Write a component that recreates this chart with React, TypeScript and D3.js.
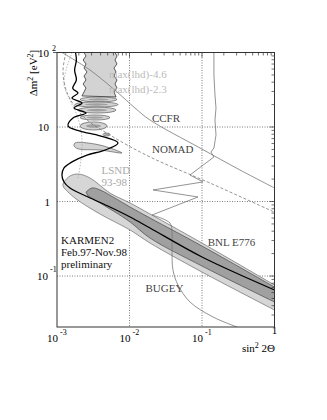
import React from 'react';
import * as d3 from 'd3';

// sin^2 2theta vs dm^2, everything as [sin2, dm2]
const xTickVals = [1e-3, 1e-2, 1e-1, 1];
const yTickVals = [100, 10, 1, 0.1];

const karmen2 = [
  [1.8e-3, 100], [1.85e-3, 79], [1.75e-3, 58], [1.85e-3, 43], [1.65e-3, 33], [1.95e-3, 28.6],
  [1.61e-3, 24.5], [2.21e-3, 21], [1.72e-3, 18], [2.51e-3, 15.4], [1.66e-3, 13.2], [1.42e-3, 10.3],
  [2.08e-3, 8.8], [3.92e-3, 7.6], [6.94e-3, 6.1], [4.59e-3, 4.9], [2.59e-3, 4.2], [1.61e-3, 3.4],
  [1.25e-3, 2.82], [1.17e-3, 2.27], [1.25e-3, 1.83], [1.51e-3, 1.52], [2.68e-3, 1.15], [5.38e-3, 0.844],
  [1.02e-2, 0.62], [1.92e-2, 0.441], [0.1, 0.18], [1, 0.065],
];

const lsndOuterUpper = [
  [1.2e-3, 1.66], [1.25e-3, 1.83], [1.51e-3, 2.2], [1.95e-3, 2.34], [2.85e-3, 2.07], [5.38e-3, 1.3],
  [1.02e-2, 0.955], [1.92e-2, 0.68], [0.1, 0.277], [1, 0.0757],
];
const lsndOuterLower = [
  [1.25e-3, 1.52], [1.77e-3, 1.11], [3.92e-3, 0.68], [1.02e-2, 0.414], [1.92e-2, 0.277], [0.1, 0.113], [1, 0.035],
];
const lsndInnerUpper = [
  [2.51e-3, 1.34], [3.04e-3, 1.52], [3.92e-3, 1.43], [6.31e-3, 1.11], [1.02e-2, 0.844], [1.92e-2, 0.601],
  [0.1, 0.253], [1, 0.0711],
];
const lsndInnerLower = [
  [2.68e-3, 1.19], [3.92e-3, 0.955], [6.31e-3, 0.723], [1.02e-2, 0.531], [1.92e-2, 0.323], [0.1, 0.136], [1, 0.0448],
];

// high dm2 LSND block: left edge top->bottom, right edge bottom->top
const lsndHighLeft = [
  [2.36e-3, 100], [2.51e-3, 89.7], [2.29e-3, 79.3], [2.51e-3, 70.2], [2.36e-3, 61.9], [2.59e-3, 54.8],
  [2.36e-3, 48.4], [2.51e-3, 42.8], [2.29e-3, 37.8], [2.51e-3, 33.4], [2.36e-3, 29.5], [2.21e-3, 26.1],
];
const lsndHighRight = [
  [6.52e-3, 25.3], [6.11e-3, 29.5], [6.73e-3, 33.4], [6.31e-3, 37.8], [6.73e-3, 42.8], [6.11e-3, 48.4],
  [6.52e-3, 54.8], [6.11e-3, 61.9], [6.73e-3, 70.2], [6.31e-3, 79.3], [6.73e-3, 89.7], [6.31e-3, 100],
];

// islands: [sin2 lo, sin2 hi, dm2 lo, dm2 hi]
const lsndIslands = [
  [2.08e-3, 6.73e-3, 21.7, 25.3],
  [1.77e-3, 6.94e-3, 18.5, 21.7],
  [1.95e-3, 6.52e-3, 15.4, 18.5],
  [2.08e-3, 5.38e-3, 12.4, 14.5],
  [2.08e-3, 4.89e-3, 9.12, 11.7],
  [4.31e-3, 5.38e-3, 7.57, 8.3],
];
const lsndTail = [
  [1.77e-3, 6.1], [3.34e-3, 5.91], [5.38e-3, 5.23], [7.89e-3, 4.48], [3.92e-3, 4.91], [1.95e-3, 5.1], [1.72e-3, 5.56],
];

const lsndLhd = [
  [1.61e-3, 100], [1.33e-3, 58], [1.25e-3, 36.6], [1.51e-3, 23], [1.95e-3, 13.2], [2.21e-3, 6.7],
  [2.14e-3, 3.6], [1.95e-3, 2.07],
];
const ccfr = [
  [1.17e-3, 100], [2.85e-3, 58.2], [6.73e-3, 29.5], [1.19e-2, 18], [1.92e-2, 12.4], [9.38e-2, 5.23],
  [0.334, 2.65], [1, 1.52],
];
const nomad = [
  [1.33e-3, 100], [1.21e-3, 54.8], [1.42e-3, 26.9], [2.43e-3, 13.2], [5.38e-3, 7.8], [1.92e-2, 3.96],
  [0.129, 1.77], [1, 0.72],
];
const bnlE776 = [
  [0.146, 100], [0.146, 49.9], [0.151, 26.9], [0.156, 18], [0.151, 12.4], [0.156, 7.8], [0.146, 5.23],
  [0.133, 4.62], [0.146, 3.96], [0.0683, 2.27], [0.103, 1.83], [0.0211, 1.43], [0.0881, 1.15], [0.0204, 0.659],
];
const bugey = [
  [0.0204, 0.659], [0.0362, 0.514], [0.0386, 0.378], [0.0386, 0.223], [0.0398, 0.12], [0.0467, 0.0757],
  [0.0683, 0.0448], [0.142, 0.0282], [0.304, 0.0207],
];

const labels = [
  { t: 'max(lhd)-4.6', s: 5.2e-3, d: 46, c: '#bbb' },
  { t: 'max(lhd)-2.3', s: 5.2e-3, d: 28.5, c: '#bbb' },
  { t: 'CCFR', s: 2.04e-2, d: 11.5, c: '#444' },
  { t: 'NOMAD', s: 2.04e-2, d: 4.45, c: '#444' },
  { t: 'LSND', s: 4.1e-3, d: 2.37, c: '#aaa' },
  { t: '93-98', s: 4.1e-3, d: 1.61, c: '#aaa' },
  { t: 'BNL E776', s: 0.12, d: 0.254, c: '#444' },
  { t: 'BUGEY', s: 0.0166, d: 0.062, c: '#444' },
];
const karmenText = ['KARMEN2', 'Feb.97-Nov.98', 'preliminary'];

const FONT = 'Liberation Serif, DejaVu Serif, serif';

export default function App() {
  const x = d3.scaleLog().domain([1e-3, 1]).range([57, 274.5]);
  const y = d3.scaleLog().domain([0.0207, 100]).range([327, 52.5]);
  const [x0, x1] = x.range();
  const [y0, y1] = y.range();

  const smooth = d3.line<number[]>().x(d => x(d[0])).y(d => y(d[1])).curve(d3.curveCatmullRom.alpha(0.5));
  const closed = d3.line<number[]>().x(d => x(d[0])).y(d => y(d[1])).curve(d3.curveCatmullRomClosed.alpha(0.5));
  const straight = d3.line<number[]>().x(d => x(d[0])).y(d => y(d[1]));

  const band = (up: number[][], lo: number[][]) => {
    const a = smooth(up) as string;
    const b = smooth(lo.slice().reverse()) as string;
    return a + 'L' + b.slice(1) + 'Z';
  };

  const xMinor = x.ticks().filter(v => v > 1e-3 && v < 1);
  const yMinor = y.ticks().filter(v => v > 0.0207 && v < 100);

  return (
    <svg width={327} height={420} style={{ position: 'absolute', left: 0, top: 0, background: '#fff', fontFamily: FONT }}>
      <defs>
        <clipPath id="plot">
          <rect x={x0} y={y1} width={x1 - x0} height={y0 - y1} />
        </clipPath>
      </defs>

      <g clipPath="url(#plot)">
        {/* grid */}
        {xTickVals.slice(1, 3).map(v => (
          <line key={'gx' + v} x1={x(v)} x2={x(v)} y1={y1} y2={y0} stroke="#444" strokeWidth={0.7} strokeDasharray="1,1.5" />
        ))}
        {yTickVals.slice(1).map(v => (
          <line key={'gy' + v} x1={x0} x2={x1} y1={y(v)} y2={y(v)} stroke="#444" strokeWidth={0.7} strokeDasharray="1,1.5" />
        ))}

        {/* LSND regions */}
        <path d={straight(lsndHighLeft.concat(lsndHighRight)) + 'Z'} fill="#d3d3d3" stroke="#333" strokeWidth={0.8} />
        {lsndIslands.map((d, i) => {
          const cx = (x(d[0]) + x(d[1])) / 2, cy = (y(d[2]) + y(d[3])) / 2;
          const rx = (x(d[1]) - x(d[0])) / 2, ry = (y(d[2]) - y(d[3])) / 2;
          return (
            <g key={'is' + i}>
              <ellipse cx={cx} cy={cy} rx={rx} ry={ry} fill="#d3d3d3" stroke="#444" strokeWidth={0.6} />
              <ellipse cx={cx} cy={cy} rx={rx * 0.55} ry={ry * 0.45} fill="#a0a0a0" />
            </g>
          );
        })}
        <path d={closed(lsndTail) as string} fill="#d3d3d3" stroke="#444" strokeWidth={0.6} />
        <path d={band(lsndOuterUpper, lsndOuterLower)} fill="#d6d6d6" stroke="#555" strokeWidth={0.6} />
        <path d={band(lsndInnerUpper, lsndInnerLower)} fill="#a0a0a0" stroke="#333" strokeWidth={0.6} />

        {/* other experiments */}
        <path d={smooth(lsndLhd) as string} fill="none" stroke="#aaa" strokeWidth={0.8} strokeDasharray="1.5,1.5" />
        <path d={smooth(ccfr) as string} fill="none" stroke="#777" strokeWidth={0.8} />
        <path d={smooth(nomad) as string} fill="none" stroke="#777" strokeWidth={0.8} strokeDasharray="3,2" />
        <path d={straight(bnlE776) as string} fill="none" stroke="#777" strokeWidth={0.8} />
        <path d={smooth(bugey) as string} fill="none" stroke="#777" strokeWidth={0.8} />

        {/* KARMEN2 limit */}
        <path d={smooth(karmen2) as string} fill="none" stroke="#000" strokeWidth={1.3} />
      </g>

      {/* frame + ticks */}
      <rect x={x0} y={y1} width={x1 - x0} height={y0 - y1} fill="none" stroke="#333" strokeWidth={1} />
      {xMinor.map(v => {
        const major = xTickVals.includes(v);
        return <line key={'tx' + v} x1={x(v)} x2={x(v)} y1={y1} y2={y1 + (major ? 5 : 3)} stroke="#333" strokeWidth={0.7} />;
      })}
      {yMinor.map(v => {
        const major = yTickVals.includes(v);
        return <line key={'ty' + v} x1={x1} x2={x1 - (major ? 5 : 3)} y1={y(v)} y2={y(v)} stroke="#333" strokeWidth={0.7} />;
      })}
      <line x1={x0 - 4} x2={x0} y1={y1} y2={y1} stroke="#333" strokeWidth={0.8} />

      {/* y tick labels */}
      <text x={49} y={y(100) + 4} fontSize={11} textAnchor="end">10</text>
      <text x={52} y={y(100) - 2} fontSize={8}>2</text>
      <text x={49} y={y(10) + 4} fontSize={11} textAnchor="end">10</text>
      <text x={50} y={y(1) + 4} fontSize={11} textAnchor="end">1</text>
      <text x={48} y={y(0.1) + 4} fontSize={11} textAnchor="end">10</text>
      <text x={50} y={y(0.1) - 4} fontSize={8}>-1</text>

      {/* x tick labels */}
      {xTickVals.slice(0, 3).map((v, i) => (
        <g key={'lx' + v}>
          <text x={x(v) + 1} y={342} fontSize={11} textAnchor="end">10</text>
          <text x={x(v) + 3} y={335} fontSize={8}>{['-3', '-2', '-1'][i]}</text>
        </g>
      ))}
      <text x={x(1)} y={334} fontSize={11} textAnchor="middle">1</text>
      <text x={242} y={352} fontSize={11}>sin<tspan fontSize={8} dy={-4}>2</tspan><tspan dy={4}> 2Θ</tspan></text>

      {/* y axis title */}
      <text transform="translate(37,73) rotate(-90)" fontSize={11} textAnchor="middle">
        Δm<tspan fontSize={8} dy={-4}>2</tspan><tspan dy={4}> [eV</tspan><tspan fontSize={8} dy={-4}>2</tspan><tspan dy={4}>]</tspan>
      </text>

      {/* annotations */}
      {labels.map(l => (
        <text key={l.t} x={x(l.s)} y={y(l.d)} fontSize={11} fill={l.c}>{l.t}</text>
      ))}
      {karmenText.map((t, i) => (
        <text key={t} x={61} y={244 + i * 12} fontSize={11} fill="#111">{t}</text>
      ))}
    </svg>
  );
}
